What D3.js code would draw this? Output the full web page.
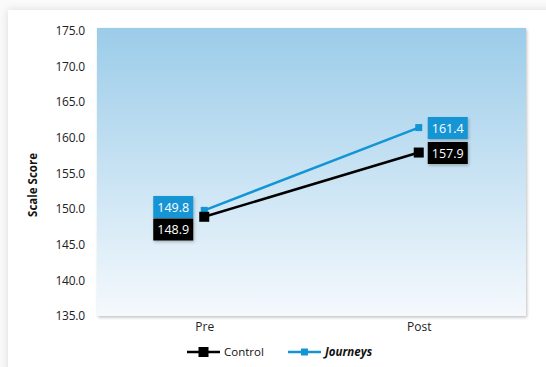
<!DOCTYPE html>
<html><head><meta charset="utf-8">
<script src="https://cdn.jsdelivr.net/npm/d3@7"></script>
<style>html,body{margin:0;padding:0;background:#fafafa;overflow:hidden;}</style>
</head><body>
<script>
const categories = ["Pre", "Post"];
const controlValues = [148.9, 157.9];
const journeysValues = [149.8, 161.4];
const yTicks = [135, 140, 145, 150, 155, 160, 165, 170, 175];
const seriesNames = ["Control", "Journeys"];

const W = 546, H = 367;
const svg = d3.select("body").append("svg").attr("width", W).attr("height", H);
const defs = svg.append("defs");
const g = defs.append("linearGradient").attr("id","bg").attr("x1",0).attr("y1",0).attr("x2",0).attr("y2",1);
g.append("stop").attr("offset","0%").attr("stop-color","#9bcce9");
g.append("stop").attr("offset","100%").attr("stop-color","#f5f9fd");
const sh = defs.append("filter").attr("id","sh").attr("x","-20%").attr("y","-20%").attr("width","140%").attr("height","140%");
sh.append("feDropShadow").attr("dx",1).attr("dy",1.5).attr("stdDeviation",1.5).attr("flood-color","#000").attr("flood-opacity",0.25);
const sh2 = defs.append("filter").attr("id","sh2").attr("x","-5%").attr("y","-5%").attr("width","110%").attr("height","110%");
sh2.append("feDropShadow").attr("dx",0).attr("dy",0).attr("stdDeviation",4).attr("flood-color","#000").attr("flood-opacity",0.12);

// card
svg.append("rect").attr("x",8).attr("y",10).attr("width",W+20).attr("height",H+20).attr("fill","#fff").attr("filter","url(#sh2)");

const plot = {l:97, t:28, r:526, b:316};
const x = d3.scalePoint().domain(categories).range([plot.l, plot.r]).padding(0.5);
const y = d3.scaleLinear().domain([135,175]).range([316,30.5]);

svg.append("rect").attr("x",plot.l).attr("y",plot.t).attr("width",plot.r-plot.l).attr("height",plot.b-plot.t)
  .attr("fill","url(#bg)").attr("filter","url(#sh)");

const font = "'Open Sans', 'Noto Sans', sans-serif";

const yAxis = d3.axisLeft(y).tickValues(yTicks).tickFormat(d3.format(".1f")).tickSize(0).tickPadding(0);
const ya = svg.append("g").attr("transform",`translate(${plot.l-12},0)`).call(yAxis);
ya.select(".domain").remove();
ya.selectAll("text").attr("font-family",font).attr("font-size",12).attr("fill","#222").attr("letter-spacing",-0.2);

const xAxis = d3.axisBottom(x).tickSize(0).tickPadding(0);
const xa = svg.append("g").attr("transform",`translate(0,${plot.b+6})`).call(xAxis);
xa.select(".domain").remove();
xa.selectAll("text").attr("font-family",font).attr("font-size",12).attr("fill","#222");

svg.append("text").attr("transform","translate(37,185) rotate(-90)").attr("text-anchor","middle")
  .attr("font-family",font).attr("font-weight","bold").attr("font-size",11.5).attr("fill","#111").text("Scale Score");

const blue = "#1295d5";
const line = d3.line().x((d,i)=>x(categories[i])).y(d=>y(d));
svg.append("path").datum(journeysValues).attr("d",line).attr("fill","none").attr("stroke",blue).attr("stroke-width",2.5);
svg.append("path").datum(controlValues).attr("d",line).attr("fill","none").attr("stroke","#000").attr("stroke-width",2.5);

svg.selectAll(".jm").data(journeysValues).enter().append("rect")
  .attr("x",(d,i)=>x(categories[i])-3.5).attr("y",d=>y(d)-3.5).attr("width",7).attr("height",7).attr("fill",blue);
svg.selectAll(".cm").data(controlValues).enter().append("rect")
  .attr("x",(d,i)=>x(categories[i])-5).attr("y",d=>y(d)-5).attr("width",10).attr("height",10).attr("fill","#000");

// value labels
const lblOffset = [ -51, 9 ];
function labelBox(val, i, yc, fill){
  const bx = x(categories[i]) + lblOffset[i];
  svg.append("rect").attr("x",bx).attr("y",yc-11).attr("width",40).attr("height",22).attr("fill",fill).attr("filter","url(#sh)");
  svg.append("text").attr("x",bx+20).attr("y",yc).attr("dy","0.36em").attr("text-anchor","middle")
    .attr("font-family",font).attr("font-size",12.5).attr("fill","#fff").text(d3.format(".1f")(val));
}
labelBox(journeysValues[0],0,207,blue);
labelBox(controlValues[0],0,229.5,"#000");
labelBox(journeysValues[1],1,128,blue);
labelBox(controlValues[1],1,153,"#000");

// legend
const leg = [{name:seriesNames[0], color:"#000", sz:10, x0:187, bold:false},{name:seriesNames[1], color:blue, sz:7, x0:288, bold:true}];
leg.forEach(l=>{
  const yy = 352;
  svg.append("line").attr("x1",l.x0).attr("x2",l.x0+33).attr("y1",yy).attr("y2",yy).attr("stroke",l.color).attr("stroke-width",2.5);
  svg.append("rect").attr("x",l.x0+16.5-l.sz/2).attr("y",yy-l.sz/2).attr("width",l.sz).attr("height",l.sz).attr("fill",l.color);
  svg.append("text").attr("x",l.x0+37).attr("y",yy).attr("dy","0.36em").attr("font-family",font).attr("font-size",11.5)
    .attr("fill","#111").attr("font-weight",l.bold?"bold":"normal").attr("font-style",l.bold?"italic":"normal").text(l.name);
});
</script>
</body></html>
